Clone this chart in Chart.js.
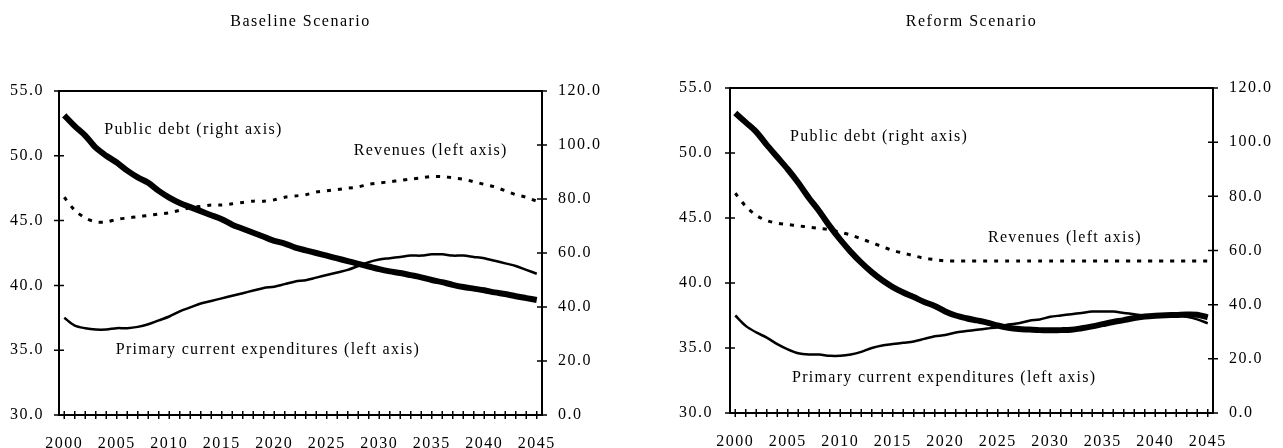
<!DOCTYPE html>
<html>
<head>
<meta charset="utf-8">
<script src="https://cdn.jsdelivr.net/npm/chart.js@4.4.1/dist/chart.umd.min.js"></script>
<style>
html,body{margin:0;padding:0;background:#fff;}
#wrap{position:relative;width:1283px;height:448px;overflow:hidden;}
.box{position:absolute;top:0;height:448px;}
#b1{left:0;width:641px;}
#b2{left:641px;width:642px;}
</style>
</head>
<body>
<div id="wrap">
  <div class="box" id="b1"><canvas id="c1"></canvas></div>
  <div class="box" id="b2"><canvas id="c2"></canvas></div>
</div>
<script>
// years 2000..2045
const years = Array.from({length:46}, (_, i) => 2000 + i);
const leftTicks = [30, 35, 40, 45, 50, 55];
const rightTicks = [0, 20, 40, 60, 80, 100, 120];

// Baseline scenario
const baseDebt = [111,107,103.5,99,96,93.5,90.5,88,86,83,80.5,78.5,77,75.5,74,72.5,70.5,69,67.5,66,
  64.5,63.5,62,61,60,59,58,57,56,55,54,53.2,52.6,51.8,51,50,49.2,48.2,47.4,46.8,46.2,45.4,44.8,44,43.3,42.6];
const baseRevenues = [46.8,45.8,45.2,44.9,44.9,45.1,45.2,45.3,45.4,45.5,45.6,45.8,46.0,46.1,46.2,46.2,46.3,46.4,46.5,46.5,
  46.6,46.8,46.9,47.0,47.2,47.3,47.4,47.5,47.6,47.8,47.9,48.0,48.1,48.2,48.3,48.4,48.4,48.3,48.2,48.0,47.8,47.6,47.3,47.0,46.8,46.5];
const basePrimary = [37.5,36.9,36.7,36.6,36.6,36.7,36.7,36.8,37.0,37.3,37.6,38.0,38.3,38.6,38.8,39.0,39.2,39.4,39.6,39.8,
  39.9,40.1,40.3,40.4,40.6,40.8,41.0,41.2,41.5,41.8,42.0,42.1,42.2,42.3,42.3,42.4,42.4,42.3,42.3,42.2,42.1,41.9,41.7,41.5,41.2,40.9];

// Reform scenario
const reformDebt = [110.8,107.3,103.8,99,94.5,90,85,79.5,74.5,69,64,59.5,55.5,52,49,46.5,44.5,42.8,41,39.5,
  37.5,36,35,34.2,33.4,32.3,31.5,31,30.8,30.6,30.6,30.6,30.7,31.3,32,32.8,33.6,34.3,35.1,35.6,35.9,36.1,36.2,36.4,36.3,35.3];
const reformRevenues = [46.9,45.9,45.2,44.8,44.6,44.5,44.4,44.3,44.2,44.1,43.9,43.7,43.4,43.1,42.8,42.5,42.3,42.1,41.9,41.8,
  41.7,41.7,41.7,41.7,41.7,41.7,41.7,41.7,41.7,41.7,41.7,41.7,41.7,41.7,41.7,41.7,41.7,41.7,41.7,41.7,41.7,41.7,41.7,41.7,41.7,41.7];
const reformPrimary = [37.5,36.7,36.2,35.8,35.3,34.9,34.6,34.5,34.5,34.4,34.4,34.5,34.7,35.0,35.2,35.3,35.4,35.5,35.7,35.9,
  36.0,36.2,36.3,36.4,36.5,36.6,36.8,36.9,37.1,37.2,37.4,37.5,37.6,37.7,37.8,37.8,37.8,37.7,37.6,37.5,37.5,37.5,37.5,37.4,37.2,36.9];

const FONT = "'Liberation Serif', 'Times New Roman', serif";

// box, crossing ticks, title and in-plot labels
const paperLook = {
  id: 'paperLook',
  beforeDraw(chart) {
    chart.ctx.letterSpacing = '1.5px';
  },
  afterDraw(chart, args, opts) {
    const {ctx, chartArea: a, scales} = chart;
    ctx.save();
    ctx.strokeStyle = '#000';
    ctx.lineWidth = 2;
    ctx.strokeRect(a.left, a.top, a.right - a.left, a.bottom - a.top);

    ctx.lineWidth = 1.5;
    ctx.beginPath();
    leftTicks.forEach(v => {
      const py = scales.y.getPixelForValue(v);
      ctx.moveTo(a.left - 5, py); ctx.lineTo(a.left + 5, py);
    });
    rightTicks.forEach(v => {
      const py = scales.y1.getPixelForValue(v);
      ctx.moveTo(a.right - 5, py); ctx.lineTo(a.right + 5, py);
    });
    years.forEach(v => {
      const px = scales.x.getPixelForValue(v);
      ctx.moveTo(px, a.bottom - 4); ctx.lineTo(px, a.bottom + 4);
    });
    ctx.stroke();

    ctx.fillStyle = '#000';
    ctx.textAlign = 'center';
    ctx.textBaseline = 'middle';
    ctx.letterSpacing = '1.5px';
    ctx.font = '16px ' + FONT;
    ctx.fillText(opts.title, (a.left + a.right) / 2, 22);

    ctx.letterSpacing = '1.3px';
    opts.notes.forEach(n => {
      ctx.fillText(n.text, scales.x.getPixelForValue(n.x), scales[n.axis].getPixelForValue(n.y));
    });
    ctx.restore();
  }
};

function makeChart(id, title, debt, revenues, primary, notes, dims) {
  return new Chart(document.getElementById(id), {
    type: 'line',
    data: {
      datasets: [
        {label: 'Public debt', data: years.map((y, i) => ({x: y, y: debt[i]})), yAxisID: 'y1',
          borderColor: '#000', borderWidth: 6, tension: 0.3, pointRadius: 0},
        {label: 'Revenues', data: years.map((y, i) => ({x: y, y: revenues[i]})), yAxisID: 'y',
          borderColor: '#000', borderWidth: 3, borderDash: [4, 7], tension: 0.3, pointRadius: 0},
        {label: 'Primary current expenditures', data: years.map((y, i) => ({x: y, y: primary[i]})), yAxisID: 'y',
          borderColor: '#000', borderWidth: 2.5, tension: 0.3, pointRadius: 0}
      ]
    },
    options: {
      responsive: true,
      maintainAspectRatio: false,
      animation: false,
      layout: {padding: {top: dims.top, left: 0, right: 0, bottom: 0}},
      plugins: {
        legend: {display: false},
        tooltip: {enabled: false},
        paperLook: {title: title, notes: notes}
      },
      scales: {
        x: {
          type: 'linear', min: 1999.5, max: 2045.5,
          afterBuildTicks: ax => { ax.ticks = years.map(v => ({value: v})); },
          afterFit: ax => { ax.height = dims.xh; },
          grid: {display: false, drawTicks: false},
          border: {display: false},
          ticks: {autoSkip: false, maxRotation: 0, padding: 19, color: '#000',
            font: {family: FONT, size: 16},
            callback: v => (v % 5 === 0 ? String(v) : '')}
        },
        y: {
          position: 'left', min: 30, max: 55,
          afterBuildTicks: ax => { ax.ticks = leftTicks.map(v => ({value: v})); },
          afterFit: ax => { ax.width = dims.lw; },
          grid: {display: false, drawTicks: false},
          border: {display: false},
          ticks: {padding: dims.lp, color: '#000', font: {family: FONT, size: 16}, callback: v => v.toFixed(1)}
        },
        y1: {
          position: 'right', min: 0, max: 120,
          afterBuildTicks: ax => { ax.ticks = rightTicks.map(v => ({value: v})); },
          afterFit: ax => { ax.width = dims.rw; },
          grid: {display: false, drawTicks: false},
          border: {display: false},
          ticks: {padding: 16, color: '#000', font: {family: FONT, size: 16}, callback: v => v.toFixed(1)}
        }
      }
    },
    plugins: [paperLook]
  });
}

makeChart('c1', 'Baseline Scenario', baseDebt, baseRevenues, basePrimary, [
  {text: 'Public debt (right axis)', x: 2012.3, y: 105.5, axis: 'y1'},
  {text: 'Revenues (left axis)', x: 2034.9, y: 50.4, axis: 'y'},
  {text: 'Primary current expenditures (left axis)', x: 2019.4, y: 35.0, axis: 'y'}
], {top: 91, xh: 33, lw: 59, rw: 99, lp: 15});

makeChart('c2', 'Reform Scenario', reformDebt, reformRevenues, reformPrimary, [
  {text: 'Public debt (right axis)', x: 2013.7, y: 101.9, axis: 'y1'},
  {text: 'Revenues (left axis)', x: 2031.4, y: 43.5, axis: 'y'},
  {text: 'Primary current expenditures (left axis)', x: 2019.9, y: 32.7, axis: 'y'}
], {top: 88, xh: 35, lw: 89, rw: 70, lp: 17});
</script>
</body>
</html>
